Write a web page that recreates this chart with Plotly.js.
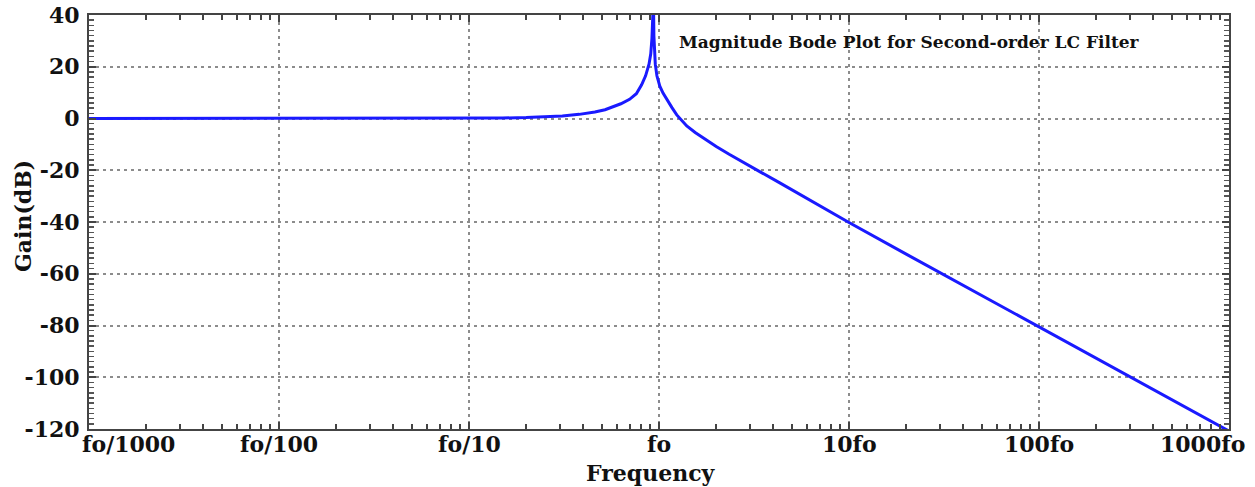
<!DOCTYPE html>
<html>
<head>
<meta charset="utf-8">
<script src="https://cdn.plot.ly/plotly-3.0.1.min.js"></script>
<style>html,body{margin:0;padding:0;background:#fff;}#chart{width:1255px;height:487px;}</style>
</head>
<body>
<div id="chart"></div>
<script>
// Frequency as a multiple of fo
const freqRatio = [0.001, 0.01, 0.05, 0.1, 0.15, 0.2, 0.25, 0.31, 0.38, 0.46, 0.52, 0.57, 0.63, 0.7, 0.76, 0.81, 0.85, 0.886, 0.905, 0.918, 0.925, 0.93, 0.935, 0.94, 0.948, 0.956, 0.975, 1.01, 1.05, 1.1, 1.17, 1.24, 1.32, 1.4, 1.55, 1.75, 2.0, 2.34, 2.9, 3.48, 4.3, 5.2, 7, 10, 20, 31.6, 50, 100, 200, 316, 500, 1000];
// Gain in dB
const gainDb = [0, 0, 0, 0.1, 0.2, 0.35, 0.6, 1.0, 1.6, 2.5, 3.4, 4.5, 5.7, 7.4, 9.6, 13, 16.5, 21, 25, 31, 38, 46, 46, 32, 25, 21, 16.5, 12.5, 9.8, 7.2, 4.2, 1.4, -1.0, -2.9, -5.4, -8.0, -10.8, -13.8, -17.8, -21.0, -24.8, -28.3, -33.6, -40.2, -52.4, -60.4, -68.5, -80.7, -92.8, -100.8, -108.8, -120.8];

const xTickVals = [0.001, 0.01, 0.1, 1, 10, 100, 1000];
const xTickText = ['fo/1000', 'fo/100', 'fo/10', 'fo', '10fo', '100fo', '1000fo'];
const yTickVals = [-120, -100, -80, -60, -40, -20, 0, 20, 40];
const yTickText = ['-120', '-100', '-80', '-60', '-40', '-20', '0', '20', '40'];

const chartTitle = 'Magnitude Bode Plot for Second-order LC Filter';
const xTitle = 'Frequency';
const yTitle = 'Gain(dB)';

const FONT = 'DejaVu Serif, Liberation Serif, serif';
const tickFont = {family: FONT, size: 22, color: '#111', weight: 'bold'};

const plotW = 1255 - 89 - 26;

const annotations = xTickText.map((t, i) => {
  let shift = 0;
  if (i === 0) shift = 39;
  if (i === xTickText.length - 1) shift = -27;
  return {
    x: Math.log10(xTickVals[i]), xref: 'x', y: 0, yref: 'paper',
    yanchor: 'top', xanchor: 'center', yshift: -1, xshift: shift, borderpad: 0,
    text: '<b>' + t + '</b>', showarrow: false, font: tickFont
  };
});
annotations.push({
  x: 0.5, xref: 'paper', y: 0, yref: 'paper', yanchor: 'top', xanchor: 'center',
  xshift: -8, yshift: -30, borderpad: 0, text: '<b>' + xTitle + '</b>', showarrow: false, font: tickFont
});
annotations.push({
  x: (23 - 89) / plotW, xref: 'paper', y: 0.5, yref: 'paper', xanchor: 'center', yanchor: 'middle',
  yshift: 6, textangle: -90, text: '<b>' + yTitle + '</b>', showarrow: false, font: tickFont
});
annotations.push({
  x: (909 - 89) / plotW, xref: 'paper', y: 0.935, yref: 'paper', xanchor: 'center', yanchor: 'middle',
  text: '<b>' + chartTitle + '</b>', showarrow: false,
  font: {family: FONT, size: 17, color: '#111', weight: 'bold'}
});

const trace = {
  x: freqRatio, y: gainDb, type: 'scatter', mode: 'lines',
  line: {color: '#1a1aff', width: 3}, hoverinfo: 'skip', cliponaxis: true
};

const gridStyle = {gridcolor: '#8c8c8c', gridwidth: 2, griddash: '3px,4px'};

const layout = {
  width: 1255, height: 487,
  margin: {l: 89, r: 26, t: 15, b: 58},
  paper_bgcolor: '#fff', plot_bgcolor: '#fff',
  showlegend: false,
  xaxis: Object.assign({
    type: 'log', range: [-3, 3], tickvals: xTickVals, showticklabels: false,
    showgrid: true, zeroline: false,
    showline: true, linecolor: '#444', linewidth: 2, mirror: 'ticks',
    ticks: 'inside', ticklen: 7, tickwidth: 2, tickcolor: '#444',
    minor: {dtick: 'D1', ticks: 'inside', ticklen: 5, tickwidth: 2, tickcolor: '#444', showgrid: false}
  }, gridStyle),
  yaxis: Object.assign({
    range: [-120, 40], tickvals: yTickVals, ticktext: yTickText, showgrid: true, zeroline: false,
    showline: true, linecolor: '#444', linewidth: 2, mirror: 'ticks',
    ticks: 'inside', ticklen: 7, tickwidth: 2, tickcolor: '#444',
    ticklabelstandoff: 3,
    tickfont: tickFont,
    minor: {dtick: 2, ticks: 'inside', ticklen: 5, tickwidth: 1.5, tickcolor: '#555', showgrid: false}
  }, gridStyle),
  annotations: annotations
};

Plotly.newPlot('chart', [trace], layout, {displayModeBar: false, staticPlot: true});
</script>
</body>
</html>
